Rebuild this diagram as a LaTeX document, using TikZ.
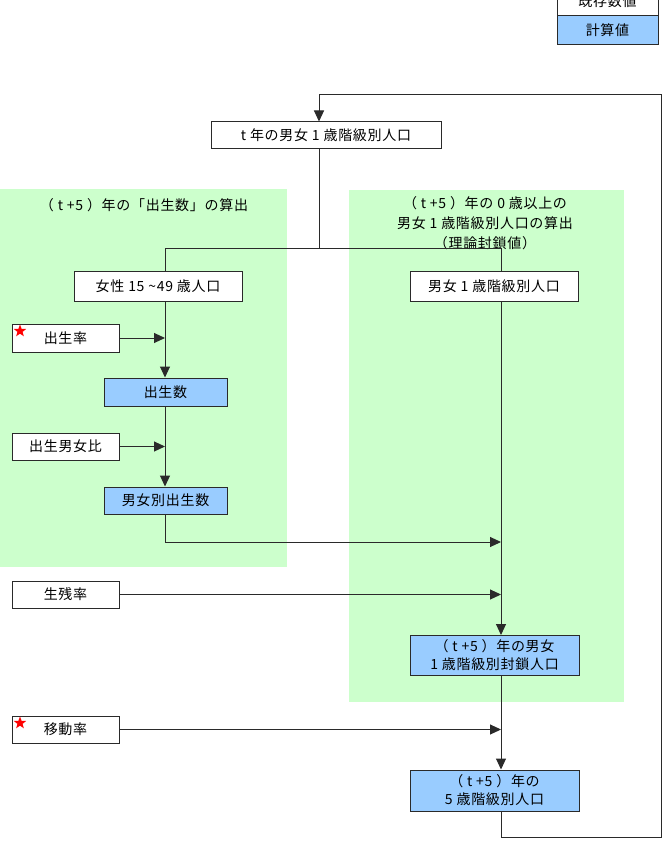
\documentclass[tikz,border=0pt]{standalone}
\usepackage{fontspec}
\setmainfont{Noto Sans CJK JP}[LetterSpace=5]
\usetikzlibrary{arrows.meta,shapes.geometric}
\definecolor{panelgreen}{HTML}{CCFFCC}
\definecolor{calcblue}{HTML}{99CCFF}
\definecolor{ink}{HTML}{2A2A2A}
\begin{document}
\begin{tikzpicture}[x=1pt,y=-1pt,
  box/.style={draw=ink, line width=1pt, fill=white, inner sep=0pt, font=\fontsize{14}{18}\selectfont, align=center},
  calc/.style={box, fill=calcblue},
  conn/.style={draw=ink, line width=1pt},
  arr/.style={conn, -{Triangle[length=11pt,width=10pt]}},
  title/.style={font=\fontsize{14}{20}\selectfont, align=center, inner sep=0pt},
  redstar/.style={star, star points=5, star point ratio=2.4, fill=red, draw=none, minimum size=13pt, inner sep=0pt}
  ]
\useasboundingbox (0,0) rectangle (664,866);
% panels
\fill[panelgreen] (0,189) rectangle (287,567);
\fill[panelgreen] (349,190) rectangle (624,702);
% legend
\node[box, minimum width=101pt, minimum height=29pt] (legA) at (607.5,1.5) {既存数値};
\node[calc, minimum width=101pt, minimum height=29pt] (legB) at (607.5,30.5) {計算値};
% titles
\node[title] (titleL) at (144,205) {（ t +5 ）年の「出生数」の算出};
\node[title] (titleR) at (485,223) {（ t +5 ）年の 0 歳以上の\\男女 1 歳階級別人口の算出\\（理論封鎖値）};
% boxes
\node[box, minimum width=230pt, minimum height=27pt] (top) at (326,135.5) {t 年の男女 1 歳階級別人口};
\node[box, minimum width=168pt, minimum height=29pt] (fem) at (158,286.5) {女性 15 {\char"7E}49 歳人口};
\node[box, minimum width=168pt, minimum height=29pt] (male) at (494,286.5) {男女 1 歳階級別人口};
\node[box, minimum width=107pt, minimum height=28pt] (rate) at (65.5,338) {出生率};
\node[calc, minimum width=123pt, minimum height=28pt] (births) at (165.5,392) {出生数};
\node[box, minimum width=107pt, minimum height=27pt] (ratio) at (65.5,446.5) {出生男女比};
\node[calc, minimum width=123pt, minimum height=27pt] (sexb) at (165.5,500.5) {男女別出生数};
\node[box, minimum width=107pt, minimum height=27pt] (surv) at (65.5,594.5) {生残率};
\node[calc, minimum width=169pt, minimum height=40pt] (closed) at (494.5,655.5) {（ t +5 ）年の男女\\1 歳階級別封鎖人口};
\node[box, minimum width=107pt, minimum height=27pt] (mig) at (65.5,729.5) {移動率};
\node[calc, minimum width=169pt, minimum height=41pt] (final) at (494.5,790.5) {（ t +5 ）年の\\5 歳階級別人口};
% stars
\node[redstar] (star1) at (20,331) {};
\node[redstar] (star2) at (20,723) {};
% junction coordinates
\coordinate (j) at (319,249);
\coordinate (jl) at (165,249);
\coordinate (jr) at (501,249);
\coordinate (b1) at (165,542);
\coordinate (b2) at (501,542);
\coordinate (l1) at (501,837);
\coordinate (l2) at (661,837);
\coordinate (l3) at (661,95);
\coordinate (l4) at (319,95);
% connectors
\draw[conn] (top.south -| j) -- (j);
\draw[conn] (fem.north -| jl) -- (jl) -- (jr) -- (male.north -| jr);
\draw[arr] (fem.south -| jl) -- (births.north -| jl);
\draw[arr] (rate.east) -- (rate.east -| jl);
\draw[arr] (births.south -| jl) -- (sexb.north -| jl);
\draw[arr] (ratio.east) -- (ratio.east -| jl);
\draw[arr] (sexb.south -| jl) -- (b1) -- (b2);
\draw[arr] (surv.east) -- (surv.east -| jr);
\draw[arr] (male.south -| jr) -- (closed.north -| jr);
\draw[arr] (closed.south -| jr) -- (final.north -| jr);
\draw[arr] (mig.east) -- (mig.east -| jr);
\draw[arr] (final.south -| jr) -- (l1) -- (l2) -- (l3) -- (l4) -- (top.north -| j);
\end{tikzpicture}
\end{document}
